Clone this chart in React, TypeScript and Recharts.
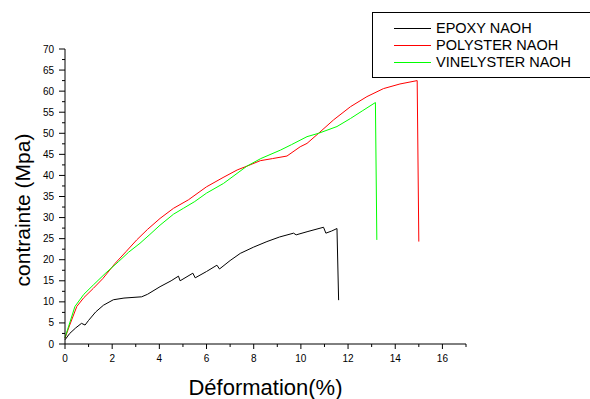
import React from "react";
import { LineChart, Line, XAxis, YAxis, Legend } from "recharts";

// stress-strain readings, [déformation %, contrainte MPa]
const epoxyNaoh: [number, number][] = [
  [0, 1.0], [0.2, 2.5], [0.45, 3.8], [0.7, 4.9], [0.85, 4.5], [1.0, 5.6],
  [1.3, 7.6], [1.63, 9.2], [2.05, 10.5], [2.5, 10.9], [3.25, 11.2], [3.5, 11.8],
  [4.03, 13.6], [4.5, 15.0], [4.81, 16.1], [4.88, 15.0], [5.42, 16.8], [5.52, 15.7],
  [6.0, 17.2], [6.44, 18.7], [6.55, 17.8], [7.0, 19.8], [7.43, 21.5], [8.0, 23.0],
  [8.56, 24.3], [9.1, 25.4], [9.69, 26.3], [9.8, 25.9], [10.3, 26.7], [10.96, 27.7],
  [11.06, 26.3], [11.3, 26.8], [11.53, 27.4], [11.6, 10.4],
];

const polysterNaoh: [number, number][] = [
  [0, 1.4], [0.2, 4.5], [0.5, 8.9], [0.8, 11.0], [1.2, 13.2], [1.6, 15.5],
  [2.12, 19.1], [2.6, 22.0], [3.04, 24.7], [3.5, 27.2], [4.03, 29.8], [4.6, 32.2],
  [5.23, 34.2], [6.0, 37.3], [6.7, 39.5], [7.3, 41.3], [7.71, 42.2], [8.28, 43.5],
  [8.8, 44.0], [9.41, 44.6], [9.97, 46.8], [10.26, 47.6], [10.75, 50.0], [11.39, 53.2],
  [12.1, 56.3], [12.8, 58.7], [13.5, 60.6], [14.2, 61.7], [14.93, 62.5], [15.0, 24.3],
];

const vinelysterNaoh: [number, number][] = [
  [0, 1.5], [0.2, 5.0], [0.42, 8.9], [0.8, 11.8], [1.2, 14.0], [1.7, 16.7],
  [2.26, 19.5], [2.7, 21.8], [3.18, 23.9], [3.6, 26.0], [4.03, 28.2], [4.6, 30.8],
  [5.02, 32.2], [5.5, 33.8], [6.0, 35.8], [6.72, 38.1], [7.71, 42.2], [8.3, 44.0],
  [9.13, 46.0], [9.6, 47.3], [10.26, 49.2], [10.75, 50.0], [11.53, 51.6], [12.1, 53.5],
  [12.6, 55.3], [13.16, 57.3], [13.22, 24.7],
];

const xTicks = Array.from({ length: 18 }, (_, i) => i); // 0..17, labels on even
const yTicks = Array.from({ length: 29 }, (_, i) => i * 2.5); // 0..70, labels on 5s

const series = [
  { name: "EPOXY NAOH", color: "#000000", points: epoxyNaoh },
  { name: "POLYSTER NAOH", color: "#ff0000", points: polysterNaoh },
  { name: "VINELYSTER NAOH", color: "#00ff00", points: vinelysterNaoh },
];

const FONT = "Arial, 'Liberation Sans', sans-serif";

const XTick = (props: any) => {
  const { x, y, payload } = props;
  const v = payload.value;
  const major = v % 2 === 0;
  return (
    <g>
      <line x1={x} y1={y} x2={x} y2={y + (major ? 5 : 3)} stroke="#000" />
      {major && v <= 16 && (
        <text x={x} y={y + 18} textAnchor="middle" fontSize={10} fontFamily={FONT} fill="#000">
          {v}
        </text>
      )}
    </g>
  );
};

const YTick = (props: any) => {
  const { x, y, payload } = props;
  const v = payload.value;
  const major = v % 5 === 0;
  return (
    <g>
      <line x1={x} y1={y} x2={x - (major ? 6 : 3)} y2={y} stroke="#000" />
      {major && (
        <text x={x - 11} y={y + 3.5} textAnchor="end" fontSize={10} fontFamily={FONT} fill="#000">
          {v}
        </text>
      )}
    </g>
  );
};

// y title sits a bit below the axis middle in the original
const YTitle = () => (
  <text
    x={30}
    y={210}
    transform="rotate(-90 30 210)"
    textAnchor="middle"
    fontSize={21}
    fontFamily={FONT}
    fill="#000"
  >
    contrainte (Mpa)
  </text>
);

const LegendBox = () => (
  <div
    style={{
      border: "1px solid #000",
      width: 240,
      height: 66,
      boxSizing: "border-box",
      paddingTop: 7,
      fontFamily: FONT,
      fontSize: 14.5,
      background: "#fff",
    }}
  >
    {series.map((s) => (
      <div key={s.name} style={{ display: "flex", alignItems: "center", height: 17 }}>
        <div style={{ width: 37, height: 1, background: s.color, marginLeft: 21, marginRight: 5 }} />
        <span style={{ color: "#000", lineHeight: "17px" }}>{s.name}</span>
      </div>
    ))}
  </div>
);

export default function App() {
  return (
    <div
      style={{
        position: "absolute",
        left: 0,
        top: 0,
        width: 590,
        height: 399,
        overflow: "hidden",
        background: "#fff",
      }}
    >
      <LineChart width={590} height={399} margin={{ top: 49, right: 124, bottom: 0, left: 0 }}>
        <XAxis
          type="number"
          dataKey="x"
          domain={[0, 17]}
          ticks={xTicks}
          interval={0}
          height={55}
          tickSize={0}
          tickMargin={0}
          tickLine={false}
          tick={<XTick />}
          stroke="#000"
          label={{
            value: "Déformation(%)",
            position: "insideBottom",
            offset: 4,
            style: { fontSize: 22, fontFamily: FONT, fill: "#000" },
          }}
        />
        <YAxis
          type="number"
          dataKey="y"
          domain={[0, 70]}
          ticks={yTicks}
          interval={0}
          width={65}
          tickSize={0}
          tickMargin={0}
          tickLine={false}
          tick={<YTick />}
          stroke="#000"
          label={{ content: <YTitle /> }}
        />
        <Legend
          verticalAlign="middle"
          align="center"
          layout="horizontal"
          content={<LegendBox />}
          wrapperStyle={{ position: "absolute", top: 12, left: 372, width: 240 }}
        />
        {series.map((s) => (
          <Line
            key={s.name}
            name={s.name}
            data={s.points.map(([x, y]) => ({ x, y }))}
            dataKey="y"
            stroke={s.color}
            strokeWidth={1}
            dot={false}
            activeDot={false}
            type="linear"
            isAnimationActive={false}
          />
        ))}
      </LineChart>
    </div>
  );
}
